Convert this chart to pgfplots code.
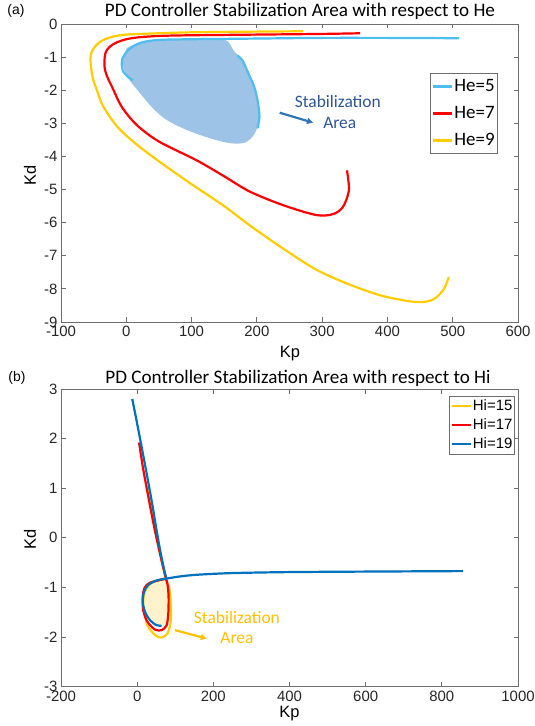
\documentclass[border=0pt]{standalone}
\usepackage{fontspec}
\setmainfont{Liberation Sans}
\newfontfamily\calib{Carlito}
\usepackage{pgfplots}
\pgfplotsset{compat=1.18}
\usetikzlibrary{arrows.meta}
\definecolor{he5}{RGB}{77,190,238}
\definecolor{redc}{RGB}{255,0,0}
\definecolor{goldc}{RGB}{255,204,0}
\definecolor{hiblue}{RGB}{0,114,189}
\definecolor{areablue}{RGB}{157,195,230}
\definecolor{areagold}{RGB}{255,242,204}
\definecolor{axgray}{RGB}{110,110,110}
\definecolor{txtblue}{RGB}{47,85,151}
\definecolor{arrblue}{RGB}{46,117,182}
\definecolor{anngold}{RGB}{255,192,0}

\pgfplotsset{
  mystyle/.style={
    scale only axis, anchor=south west,
    axis line style={axgray, line width=0.8bp},
    every tick/.style={axgray, line width=0.8bp},
    major tick length=4.5bp,
    tick align=inside,
    tick label style={font=\fontsize{15}{15}\selectfont, text=black!85},
    xticklabel style={yshift=-1bp},
    /pgf/number format/assume math mode=true,
    /pgf/number format/1000 sep={},
    scaled ticks=false,
    legend cell align=left,
    legend image code/.code={\draw[##1] (0bp,0bp) -- (19bp,0bp);},
  },
  cur/.style={line width=2.2bp, smooth},
}

\begin{document}
\begin{tikzpicture}
\useasboundingbox (0,0) rectangle (535bp,726bp);

% ---------------- (a) ----------------
\begin{axis}[mystyle,
  at={(61bp,404bp)}, width=457bp, height=298bp,
  xmin=-100, xmax=600, ymin=-9, ymax=0,
  xtick={-100,0,...,600}, ytick={-9,-8,...,0},
  legend style={at={(0.807,0.835)}, anchor=north west, draw=axgray,
    line width=0.8bp, font=\calib\fontsize{19}{19}\selectfont,
    inner xsep=2bp, inner ysep=4bp, row sep=9bp,
    nodes={inner sep=1bp, text height=13bp, text depth=3bp}},
]
  \addplot[fill=areablue, draw=none, smooth, forget plot] coordinates {
    (0.6,-0.73)(16,-0.6)(51.6,-0.5)(103,-0.47)(151,-0.48)(164,-0.79)
    (177,-1.09)(187,-1.49)(200,-2.2)(204,-2.8)(197,-3.3)(182,-3.58)
    (159,-3.6)(128,-3.45)(92.5,-3.2)(62,-2.9)(41,-2.55)(21,-2.09)
    (3,-1.64)(-4.6,-1.29)(-4.6,-1.04)(0.6,-0.73)};
  \addplot[he5, cur] coordinates {
    (510,-0.43)(400,-0.42)(300,-0.42)(200,-0.44)(150,-0.45)(100,-0.46)
    (51,-0.48)(25,-0.55)(10,-0.68)(0,-0.85)(-6,-1.05)(-7,-1.2)
    (-4.6,-1.44)(3,-1.6)(10,-1.7)};
  \addlegendentry{He=5}
  \addplot[redc, cur] coordinates {
    (358,-0.28)(300,-0.3)(200,-0.32)(100,-0.34)(51,-0.36)(20,-0.4)
    (0,-0.46)(-15,-0.56)(-25,-0.68)(-31,-0.83)(-33,-0.99)(-33.5,-1.2)
    (-32.6,-1.39)(-28,-1.65)(-22,-1.89)(-7,-2.5)(16,-3.05)(50,-3.55)
    (108,-4.12)(150,-4.6)(189,-5.06)(240,-5.47)(291,-5.77)(317,-5.74)
    (332,-5.52)(341,-5.02)(338,-4.42)};
  \addlegendentry{He=7}
  \addplot[goldc, cur] coordinates {
    (271,-0.22)(200,-0.23)(103,-0.25)(50,-0.28)(0,-0.32)(-20,-0.38)
    (-35,-0.48)(-45,-0.62)(-53,-0.84)(-55,-1.05)(-54.5,-1.2)(-53,-1.45)
    (-50.5,-1.69)(-45,-2.0)(-37.7,-2.4)(-27,-2.75)(-14.7,-3.08)(0,-3.37)
    (21,-3.72)(51.6,-4.17)(100,-4.84)(150,-5.5)(189,-6.08)(240,-6.78)
    (291,-7.42)(342,-7.87)(394,-8.22)(445,-8.4)(470,-8.32)(486,-8.02)
    (494,-7.64)};
  \addlegendentry{He=9}
  \addplot[he5, cur, forget plot] coordinates {
    (170,-0.95)(178,-1.1)(187,-1.49)(196,-1.9)(201,-2.3)(204,-2.8)(201,-3.15)};
  \draw[arrblue, line width=2.2bp, -{Triangle[length=6bp,width=6bp]}]
    (axis cs:235,-2.68) -- (axis cs:286,-2.98);
  \node[txtblue, font=\calib\fontsize{17.5}{17.5}\selectfont] at (axis cs:324,-2.35) {Stabilization};
  \node[txtblue, font=\calib\fontsize{17.5}{17.5}\selectfont] at (axis cs:327,-3.0) {Area};
\end{axis}

% ---------------- (b) ----------------
\begin{axis}[mystyle,
  at={(61bp,39.3bp)}, width=457bp, height=297.7bp,
  xmin=-200, xmax=1000, ymin=-3, ymax=3,
  xtick={-200,0,...,1000}, ytick={-3,-2,...,3},
  legend style={at={(0.993,0.977)}, anchor=north east, draw=axgray,
    line width=0.8bp, font=\fontsize{15}{15}\selectfont,
    inner xsep=1bp, inner ysep=2bp, row sep=3bp,
    nodes={inner sep=1bp, text height=11bp, text depth=3bp}},
]
  \addplot[fill=areagold, draw=none, smooth, forget plot] coordinates {
    (77,-0.82)(51,-0.86)(29,-0.95)(18,-1.09)(14.5,-1.29)(20.6,-1.49)
    (33.7,-1.66)(51,-1.76)(64,-1.77)(78,-1.7)(85,-1.5)(86,-1.1)(80,-0.85)(77,-0.82)};
  \addplot[goldc, cur] coordinates {
    (25,1.04)(36,0.6)(51,0.0)(65,-0.5)(76,-0.85)(84,-1.0)(88,-1.3)
    (88.5,-1.66)(80,-1.92)(64,-2.01)(47,-1.96)(27,-1.76)(17,-1.45)
    (16,-1.25)(22,-1.05)(40,-0.9)(77,-0.82)};
  \addlegendentry{Hi=15}
  \addplot[redc, cur] coordinates {
    (5,1.92)(15.5,1.4)(30.5,0.78)(46.5,0.15)(62.5,-0.4)(75,-0.8)(80,-0.95)
    (82.5,-1.19)(81.8,-1.52)(77.5,-1.76)(64.4,-1.86)(47,-1.85)(26.8,-1.69)
    (16,-1.46)(14.5,-1.19)(20,-1.0)(35,-0.9)(77,-0.82)};
  \addlegendentry{Hi=17}
  \addplot[hiblue, cur] coordinates {
    (-13,2.8)(0,2.3)(12,1.82)(24.6,1.31)(40,0.66)(51,0.15)(62,-0.32)
    (72,-0.68)(77,-0.82)};
  \addlegendentry{Hi=19}
  \addplot[hiblue, cur, forget plot] coordinates {
    (856,-0.67)(600,-0.68)(400,-0.69)(250,-0.71)(165,-0.74)(120,-0.77)
    (77.5,-0.82)(51,-0.86)(29,-0.95)(18,-1.09)(14.5,-1.29)(20.6,-1.49)
    (33.7,-1.66)(51,-1.76)(64,-1.77)};
  \draw[anngold, line width=2.2bp, -{Triangle[length=6bp,width=6bp]}]
    (axis cs:99.4,-1.86) -- (axis cs:182.6,-2.03);
  \node[anngold, font=\calib\fontsize{17.5}{17.5}\selectfont] at (axis cs:262,-1.6) {Stabilization};
  \node[anngold, font=\calib\fontsize{17.5}{17.5}\selectfont] at (axis cs:262,-2.02) {Area};
\end{axis}

% titles and labels
\node[anchor=base, font=\calib\fontsize{19.2}{19.2}\selectfont] at (300bp,709bp)
  {PD Controller Stabilization Area with respect to He};
\node[anchor=base, font=\fontsize{14}{14}\selectfont] at (16bp,711.5bp) {(a)};
\node[anchor=base, font=\fontsize{16.5}{16.5}\selectfont] at (290bp,368.4bp) {Kp};
\node[rotate=90, font=\fontsize{16.5}{16.5}\selectfont] at (30bp,551bp) {Kd};

\node[anchor=base, font=\calib\fontsize{19.2}{19.2}\selectfont] at (298bp,342.4bp)
  {PD Controller Stabilization Area with respect to Hi};
\node[anchor=base, font=\fontsize{14}{14}\selectfont] at (17bp,344.5bp) {(b)};
\node[anchor=base, font=\fontsize{16.5}{16.5}\selectfont] at (289.5bp,8.5bp) {Kp};
\node[rotate=90, font=\fontsize{16.5}{16.5}\selectfont] at (30bp,187bp) {Kd};
\end{tikzpicture}
\end{document}
